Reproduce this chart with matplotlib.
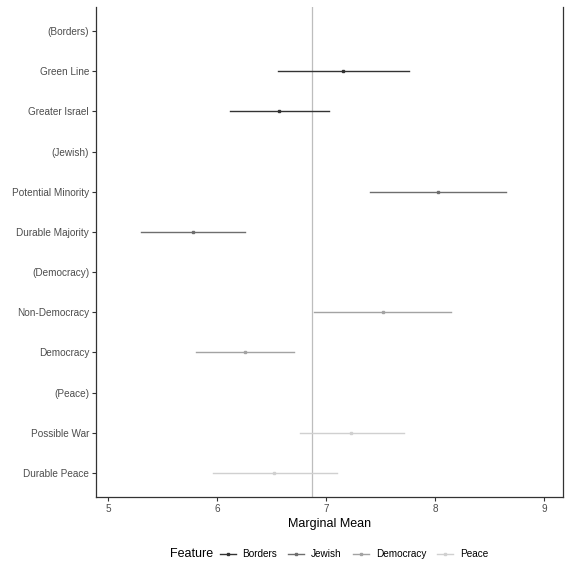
import numpy as np
import matplotlib.pyplot as plt
from matplotlib.lines import Line2D

plt.rcParams['font.family'] = ['Liberation Sans', 'DejaVu Sans']

# Data (top to bottom)
labels = ['(Borders)', 'Green Line', 'Greater Israel',
          '(Jewish)', 'Potential Minority', 'Durable Majority',
          '(Democracy)', 'Non-Democracy', 'Democracy',
          '(Peace)', 'Possible War', 'Durable Peace']
features = ['Borders', 'Jewish', 'Democracy', 'Peace']
level_feature = [None, 'Borders', 'Borders',
                 None, 'Jewish', 'Jewish',
                 None, 'Democracy', 'Democracy',
                 None, 'Peace', 'Peace']
estimates = [np.nan, 7.16, 6.57, np.nan, 8.03, 5.78, np.nan, 7.52, 6.26, np.nan, 7.23, 6.52]
lower = [np.nan, 6.56, 6.12, np.nan, 7.40, 5.30, np.nan, 6.89, 5.81, np.nan, 6.76, 5.96]
upper = [np.nan, 7.76, 7.03, np.nan, 8.65, 6.26, np.nan, 8.15, 6.71, np.nan, 7.72, 7.10]
grand_mean = 6.87

colors = {'Borders': '#333333', 'Jewish': '#6e6e6e',
          'Democracy': '#a3a3a3', 'Peace': '#d0d0d0'}

fig = plt.figure(figsize=(5.65, 5.65), dpi=100)
ax = fig.add_axes([0.170, 0.1204, 0.8265, 0.8672])

n = len(labels)
ypos = np.arange(n, 0, -1)

ax.axvline(grand_mean, color='#bdbdbd', lw=0.9, zorder=1)

for y, f, est, lo, hi in zip(ypos, level_feature, estimates, lower, upper):
    if f is None:
        continue
    c = colors[f]
    ax.plot([lo, hi], [y, y], color=c, lw=1.0, zorder=2)
    ax.plot(est, y, 's', color=c, ms=2.0, zorder=3)

ax.set_xlim(4.89, 9.175)
ax.set_ylim(0.4, n + 0.6)
ax.set_yticks(ypos)
ax.set_yticklabels(labels)
ax.set_xticks([5, 6, 7, 8, 9])
ax.tick_params(axis='both', labelsize=7.2, labelcolor='#4d4d4d',
               color='#333333', length=3, width=0.8, pad=2)
for s in ['left', 'bottom', 'right']:
    ax.spines[s].set_color('#333333')
    ax.spines[s].set_linewidth(0.9)
ax.spines['top'].set_visible(False)
ax.set_xlabel('Marginal Mean', fontsize=9, labelpad=3)

handles = [Line2D([], [], color=colors[f], lw=1.0, marker='s', ms=2.0) for f in features]
fig.text(170 / 565, 1 - 554 / 565, 'Feature', fontsize=9, va='center', ha='left')
fig.legend(handles, features, loc='center', ncol=4,
           bbox_to_anchor=(354 / 565, 1 - 554 / 565), frameon=False,
           fontsize=7.2, handlelength=1.6, handletextpad=0.7, columnspacing=1.1)

fig.savefig('out.png', dpi=100)
